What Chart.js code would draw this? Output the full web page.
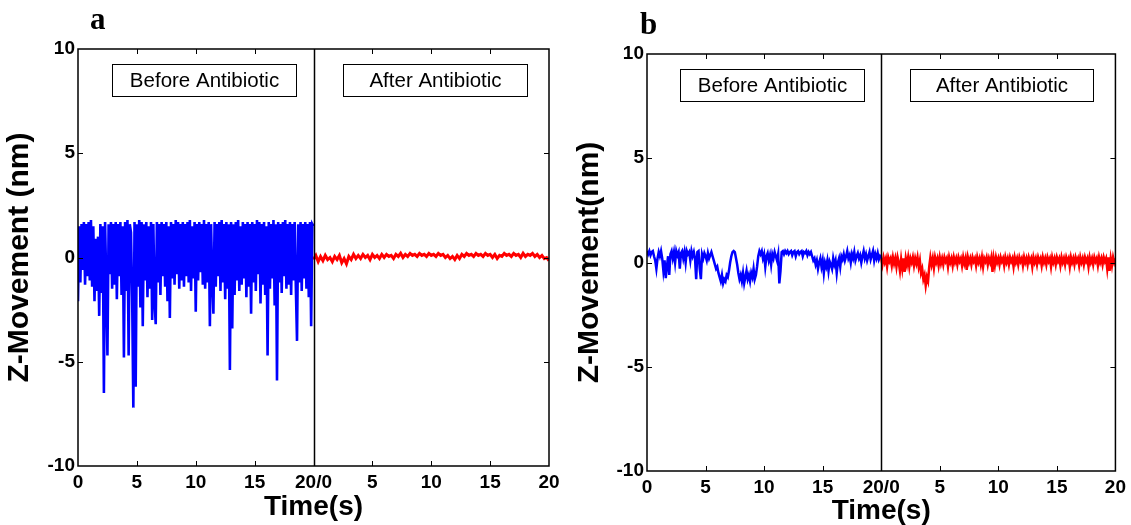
<!DOCTYPE html>
<html>
<head>
<meta charset="utf-8">
<title>Z-Movement before / after antibiotic</title>
<script src="https://cdn.jsdelivr.net/npm/chart.js@4.4.1/dist/chart.umd.min.js"></script>
<style>
  html, body { margin: 0; padding: 0; background: #fff; }
  body { width: 1131px; height: 525px; position: relative; overflow: hidden; }
  canvas { position: absolute; top: 0; }
  #panelA { left: 0; }
  #panelB { left: 565px; }
</style>
</head>
<body>
<canvas id="panelA" width="565" height="525"></canvas>
<canvas id="panelB" width="566" height="525"></canvas>
<script>
// time axis: 0-20 s before, then 0-20 s after (plotted as 20-40)
var xTickValues = [0, 5, 10, 15, 20, 25, 30, 35, 40];
var xTickLabels = ['0', '5', '10', '15', '20/0', '5', '10', '15', '20'];
var yTickValues = [-10, -5, 0, 5, 10];
var yTickLabels = ['-10', '-5', '0', '5', '10'];
var boxLabels = ['Before Antibiotic', 'After Antibiotic'];

var splitAt = 20;      // end of "before" recording (s)

// panel a, before antibiotic (nm), every 0.1 s
var beforeA = [
  -2.1, 1.5, -1.2, 1.6, -0.6, 1.7, -1.3, 1.6, -0.9, 1.7,
  -1.1, 1.8, -1.4, 1.5, -2.1, 0.9, -1.6, 1.0, -2.8, 1.6,
  -1.7, 1.5, -6.5, 1.7, -1.2, -4.7, 1.6, -0.8, 1.7, -1.5,
  1.6, -1.3, 1.7, -2.0, 1.6, -0.9, 1.7, -1.8, 1.5, -4.8,
  1.7, -1.6, 1.8, -4.7, 1.6, 1.2, -1.9, -7.2, 1.7, -6.2,
  1.6, -1.4, 1.8, -2.4, 1.7, -3.3, 1.6, -1.1, 1.7, -1.9,
  1.5, -1.5, 1.7, -3.0, 1.6, -2.1, -3.2, 1.7, -1.2, 1.6,
  -1.8, 1.7, -0.9, 1.6, -1.4, 1.7, -2.1, 1.5, -2.9, 1.7,
  -1.0, 1.6, -1.3, 1.8, -0.8, 1.7, -1.5, 1.6, -1.1, 1.7,
  -1.4, 1.6, -0.9, 1.7, -1.2, 1.8, -1.6, 1.5, -1.0, 1.7,
  -2.6, 1.6, -1.1, 1.7, -0.7, 1.6, -1.3, 1.8, -1.5, 1.6,
  -1.2, 1.7, -3.3, 1.6, -1.0, -2.7, 1.7, -1.4, 1.6, -0.9,
  1.7, -1.6, 1.8, -1.2, 1.6, -2.0, 1.7, -1.5, 1.6, -5.4,
  1.7, -3.4, 1.6, -1.8, 1.7, -1.1, 1.8, -1.6, 1.5, -1.3,
  1.7, -1.0, 1.6, -1.9, 1.7, -1.4, 1.6, -2.7, 1.7, -1.2,
  1.6, -1.6, 1.8, -0.8, 1.7, -2.2, 1.6, -1.3, 1.7, -1.8,
  1.5, -4.7, 1.7, -1.5, 1.6, -1.0, 1.8, -2.3, 1.6, -5.9,
  1.7, -1.2, 1.6, -1.7, 1.7, -0.9, 1.8, -1.5, 1.6, -1.3,
  1.7, -1.8, 1.6, -1.1, 1.7, -1.4, -4.0, 1.6, -1.2, 1.7,
  -1.6, 1.6, -1.0, 1.7, -1.5, 1.6, -1.9, 1.7, -3.3, 1.6,
  1.5
];

// panel a, after antibiotic (nm), every 0.2 s
var afterA = [
  -0.1, 0.1, -0.2, 0.05, -0.15, 0.1, -0.1, 0.0, -0.2, 0.05,
  -0.1, 0.1, -0.25, -0.05, -0.3, 0.05, -0.1, 0.15, -0.05, 0.1,
  -0.05, 0.15, 0.0, 0.1, -0.1, 0.15, 0.0, 0.1, -0.05, 0.15,
  0.0, 0.15, 0.05, 0.1, -0.05, 0.15, 0.05, 0.2, 0.0, 0.15,
  0.05, 0.2, 0.1, 0.15, 0.05, 0.2, 0.1, 0.15, 0.05, 0.2,
  0.1, 0.15, 0.05, 0.2, 0.1, 0.15, 0.0, 0.1, -0.05, 0.05,
  -0.1, 0.1, -0.05, 0.15, 0.05, 0.2, 0.1, 0.15, 0.05, 0.2,
  0.1, 0.15, 0.05, 0.2, 0.1, 0.15, 0.0, 0.15, -0.05, 0.1,
  0.05, 0.2, 0.1, 0.15, 0.05, 0.2, 0.1, 0.15, 0.0, 0.2,
  0.05, 0.15, 0.1, 0.2, 0.05, 0.15, 0.0, 0.1, -0.05, 0.0,
  -0.15
];

// panel b, before antibiotic (nm), every 0.1 s
var beforeB = [
  0.55, 0.4, 0.55, 0.35, 0.5, 0.55, 0.3, 0.1, -0.3, 0.2,
  0.5, 0.3, 0.55, 0.2, -0.4, 0.1, -0.75, -0.2, 0.3, -0.6,
  0.4, 0.55, 0.2, 0.5, 0.0, 0.55, 0.35, 0.5, -0.3, 0.45,
  0.55, 0.2, 0.5, 0.0, 0.55, 0.4, 0.5, 0.1, 0.55, 0.3,
  0.5, 0.2, -0.8, 0.5, 0.55, -0.3, -0.8, 0.4, 0.2, 0.45,
  0.3, 0.1, 0.45, 0.2, 0.35, 0.5, 0.3, 0.1, -0.1, -0.3,
  -0.2, -0.5, -0.7, -0.9, -0.6, -1.0, -0.8, -0.9, -0.6, -0.7,
  -0.4, 0.0, 0.3, 0.5, 0.55, 0.5, 0.2, -0.1, -0.5, -0.8,
  -0.6, -0.9, -0.5, -1.0, -0.7, -0.4, -0.8, -0.6, -0.9, -0.5,
  -0.7, -0.3, -0.8, -0.6, -0.2, 0.3, 0.55, 0.4, 0.55, 0.2,
  0.4, -0.2, 0.3, 0.45, 0.1, 0.35, -0.1, 0.4, 0.2, 0.5,
  0.3, 0.1, 0.4, -1.0, -0.4, 0.5, 0.55, 0.4, 0.55, 0.45,
  0.55, 0.4, 0.5, 0.55, 0.35, 0.5, 0.55, 0.3, 0.5, 0.55,
  0.4, 0.5, 0.55, 0.3, 0.5, 0.45, 0.55, 0.35, 0.5, 0.4,
  0.5, 0.3, 0.1, 0.2, -0.1, 0.1, -0.3, 0.0, 0.2, -0.2,
  0.1, -0.5, 0.0, -0.2, 0.1, -0.4, 0.05, -0.1, -0.3, 0.2,
  -0.1, 0.1, -0.5, 0.0, 0.2, -0.2, 0.3, 0.15, 0.4, 0.1,
  0.3, 0.55, 0.2, 0.35, 0.0, 0.4, 0.2, 0.5, 0.1, 0.3,
  0.45, 0.2, 0.35, 0.0, 0.3, 0.55, 0.2, 0.4, 0.1, 0.3,
  0.5, 0.15, 0.35, 0.55, 0.1, 0.4, 0.2, 0.45, 0.15, 0.3,
  0.2
];

// panel b, after antibiotic (nm), every 0.1 s
var afterB = [
  0.2, -0.1, 0.25, 0.0, 0.2, -0.2, 0.25, 0.05, 0.2, -0.15,
  0.25, -0.05, 0.2, -0.2, 0.25, 0.0, -0.4, 0.15, -0.3, 0.2,
  -0.45, 0.2, -0.1, 0.25, -0.2, 0.2, 0.0, 0.25, -0.15, 0.2,
  -0.05, 0.25, -0.2, 0.1, -0.5, -0.3, -0.8, -0.6, -1.1, -0.7,
  -0.9, -0.2, 0.25, -0.1, 0.2, -0.25, 0.25, 0.0, 0.2, -0.15,
  0.25, -0.05, 0.2, -0.1, 0.25, 0.05, 0.2, -0.2, 0.25, 0.0,
  0.2, -0.15, 0.25, 0.0, 0.2, -0.1, 0.25, 0.05, 0.2, -0.15,
  0.25, -0.05, 0.2, -0.35, 0.25, 0.0, 0.2, -0.1, 0.25, 0.05,
  0.2, -0.15, 0.25, 0.0, 0.2, -0.1, 0.25, -0.2, 0.2, 0.05,
  0.25, -0.1, 0.2, 0.0, 0.25, -0.45, 0.2, -0.15, 0.25, 0.0,
  0.2, -0.1, 0.25, 0.05, 0.2, -0.15, 0.25, 0.0, 0.2, -0.1,
  0.25, 0.05, 0.2, -0.2, 0.25, 0.0, 0.2, -0.1, 0.25, 0.05,
  0.2, -0.15, 0.25, 0.0, 0.2, -0.1, 0.25, 0.05, 0.2, -0.2,
  0.25, 0.0, 0.2, -0.1, 0.25, 0.05, 0.2, -0.15, 0.25, 0.0,
  0.2, -0.1, 0.25, 0.05, 0.2, -0.2, 0.25, 0.0, 0.2, -0.1,
  0.25, 0.05, 0.2, -0.15, 0.25, 0.0, 0.2, -0.1, 0.25, 0.05,
  0.2, -0.2, 0.25, 0.0, 0.2, -0.1, 0.25, 0.05, 0.2, -0.15,
  0.25, 0.0, 0.2, -0.1, 0.25, 0.05, 0.2, -0.2, 0.25, 0.0,
  0.2, -0.1, 0.25, 0.05, 0.2, -0.15, 0.25, 0.0, 0.2, -0.1,
  0.25, 0.05, 0.2, -0.3, 0.25, -0.4, 0.2, -0.15, 0.25, 0.0,
  0.2
];

Chart.defaults.font.family = "'Liberation Sans', Arial, sans-serif";
Chart.defaults.color = '#000';

function toPoints(values, start, step) {
  return values.map(function (v, i) { return { x: start + i * step, y: v }; });
}

// frame, divider, inward ticks, text boxes and panel letter
var framePlugin = {
  id: 'frame',
  afterDatasetsDraw: function (chart, args, opts) {
    var ctx = chart.ctx, a = chart.chartArea;
    var x = chart.scales.x, y = chart.scales.y;
    ctx.save();
    ctx.strokeStyle = '#000';
    ctx.lineWidth = 1.5;
    ctx.strokeRect(a.left, a.top, a.right - a.left, a.bottom - a.top);

    var xd = Math.round(x.getPixelForValue(splitAt)) + 0.5;
    ctx.beginPath();
    ctx.moveTo(xd, a.top);
    ctx.lineTo(xd, a.bottom);
    ctx.stroke();

    ctx.lineWidth = 1;
    ctx.beginPath();
    xTickValues.forEach(function (v) {
      if (v === 0 || v === splitAt || v === 40) return;
      var px = Math.round(x.getPixelForValue(v)) + 0.5;
      ctx.moveTo(px, a.top); ctx.lineTo(px, a.top + 5);
      ctx.moveTo(px, a.bottom); ctx.lineTo(px, a.bottom - 5);
    });
    yTickValues.forEach(function (v) {
      if (v === -10 || v === 10) return;
      var py = Math.round(y.getPixelForValue(v)) + 0.5;
      ctx.moveTo(a.left, py); ctx.lineTo(a.left + 5, py);
      ctx.moveTo(a.right, py); ctx.lineTo(a.right - 5, py);
    });
    ctx.stroke();

    ctx.font = "20.5px 'Liberation Sans', Arial, sans-serif";
    ctx.textAlign = 'center';
    ctx.textBaseline = 'middle';
    opts.boxes.forEach(function (b, i) {
      var l = Math.round(x.getPixelForValue(b[0])) + 0.5;
      var r = Math.round(x.getPixelForValue(b[1])) + 0.5;
      var t = Math.round(y.getPixelForValue(opts.boxTop)) + 0.5;
      var bt = Math.round(y.getPixelForValue(opts.boxBottom)) + 0.5;
      ctx.fillStyle = '#fff';
      ctx.fillRect(l, t, r - l, bt - t);
      ctx.strokeStyle = '#000';
      ctx.strokeRect(l, t, r - l, bt - t);
      ctx.fillStyle = '#000';
      ctx.fillText(boxLabels[i], (l + r) / 2, (t + bt) / 2 + 1);
    });

    ctx.font = "bold 31px 'Liberation Serif', 'Times New Roman', serif";
    ctx.textAlign = 'left';
    ctx.textBaseline = 'alphabetic';
    ctx.fillText(opts.letter, opts.letterX, opts.letterY);
    ctx.restore();
  }
};

function makePanel(id, p) {
  return new Chart(document.getElementById(id), {
    type: 'line',
    data: {
      datasets: [
        { data: toPoints(p.before, 0, p.blueStep), borderColor: '#0000ff', borderWidth: p.blueWidth,
          pointRadius: 0, tension: 0, fill: false },
        { data: toPoints(p.after, splitAt, p.redStep), borderColor: '#ff0000', borderWidth: p.redWidth,
          pointRadius: 0, tension: 0, fill: false }
      ]
    },
    options: {
      responsive: false,
      animation: false,
      events: [],
      layout: { padding: { left: 0, top: p.top, right: p.right, bottom: 0 } },
      plugins: {
        legend: { display: false },
        tooltip: { enabled: false },
        frame: { letter: p.letter, letterX: p.letterX, letterY: p.letterY,
                 boxes: [[2.85, 18.5], [22.5, 38.1]], boxTop: 9.28, boxBottom: 7.75 }
      },
      scales: {
        x: {
          type: 'linear', min: 0, max: 40,
          afterBuildTicks: function (s) { s.ticks = xTickValues.map(function (v) { return { value: v }; }); },
          afterFit: function (s) { s.height = p.xHeight; },
          grid: { display: false, drawTicks: false },
          border: { display: false },
          ticks: {
            autoSkip: false, maxRotation: 0, padding: 5,
            font: { size: 19, weight: 'bold' },
            callback: function (v, i) { return xTickLabels[i]; }
          },
          title: { display: true, text: 'Time(s)', font: { size: 28, weight: 'bold', lineHeight: 1 },
                   padding: { top: 0, bottom: p.xTitlePad } }
        },
        y: {
          type: 'linear', min: -10, max: 10,
          afterBuildTicks: function (s) { s.ticks = yTickValues.map(function (v) { return { value: v }; }); },
          afterFit: function (s) { s.width = p.yWidth; },
          grid: { display: false, drawTicks: false },
          border: { display: false },
          ticks: {
            padding: 3,
            font: { size: 19, weight: 'bold' },
            callback: function (v, i) { return yTickLabels[i]; }
          },
          title: { display: true, text: p.yTitle, font: { size: 30, weight: 'bold', lineHeight: 1 },
                   padding: { top: p.yTitlePad, bottom: 0 } }
        }
      }
    },
    plugins: [framePlugin]
  });
}

makePanel('panelA', {
  before: beforeA, after: afterA, blueStep: 0.1, redStep: 0.2, blueWidth: 2.6, redWidth: 3,
  top: 49, right: 16, xHeight: 59, yWidth: 78, xTitlePad: 4, yTitlePad: 5,
  yTitle: 'Z-Movement (nm)', letter: 'a', letterX: 90, letterY: 29
});

makePanel('panelB', {
  before: beforeB, after: afterB, blueStep: 0.1, redStep: 0.1, blueWidth: 2.5, redWidth: 2.5,
  top: 54, right: 13, xHeight: 54, yWidth: 82, xTitlePad: 0, yTitlePad: 10,
  yTitle: 'Z-Movement(nm)', letter: 'b', letterX: 75, letterY: 34
});
</script>
</body>
</html>
